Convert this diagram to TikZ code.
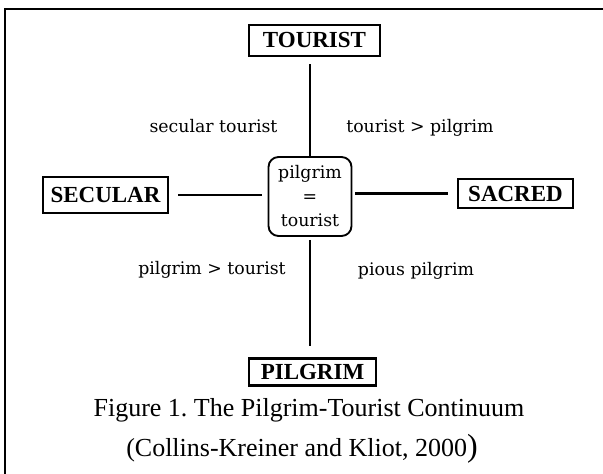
\documentclass[tikz,border=0pt]{standalone}
\usepackage{fontspec}
\setmainfont{Liberation Serif}
\newfontfamily\labelfont{DejaVu Serif}
\frenchspacing
\begin{document}
\begin{tikzpicture}[x=0.75pt,y=-0.75pt,
  frameline/.style={line width=1.5pt},
  termbox/.style={draw, line width=1.8pt, inner sep=0pt, font=\fontsize{17.25}{20}\selectfont\bfseries},
  midbox/.style={draw, line width=1.4pt, rounded corners=7.5pt, inner sep=0pt, minimum width=62.25pt, minimum height=59.25pt, align=center, font=\labelfont\fontsize{13}{18}\selectfont},
  axisline/.style={line width=2.1pt},
  quadlabel/.style={font=\labelfont\fontsize{13}{16}\selectfont, anchor=base, inner sep=0pt},
  captionstyle/.style={font=\fontsize{19.5}{24}\selectfont, anchor=base, inner sep=0pt}]
\useasboundingbox (0,0) rectangle (603,474);
\draw[frameline] (5,474) -- (5,9.5) -- (603,9.5);
% terminal boxes
\node[termbox, minimum width=98.25pt, minimum height=23.25pt] (TOURIST) at (314.5,40.5) {TOURIST};
\node[termbox, minimum width=93.75pt, minimum height=27pt] (SECULAR) at (105.5,195) {SECULAR};
\node[termbox, minimum width=86.25pt, minimum height=21.75pt] (SACRED) at (515.5,193.5) {SACRED};
\node[termbox, minimum width=95.25pt, minimum height=20.25pt] (PILGRIM) at (312.5,372) {PILGRIM};
% centre
\node[midbox] (C) at (310,196.5) {pilgrim\\=\\tourist};
% axes
\draw[axisline] ([yshift=-5.25pt]TOURIST.south -| C.north) -- (C.north);
\draw[axisline] ([yshift=-2.25pt]C.south) -- ([yshift=8.25pt]C.south |- PILGRIM.north);
\draw[axisline] ([xshift=6.75pt]SECULAR.east) -- ([xshift=-4.5pt]SECULAR.east -| C.west);
\draw[axisline] ([xshift=2.25pt]C.east |- SACRED.west) -- ([xshift=-6.75pt]SACRED.west);
% quadrant labels
\node[quadlabel] (q1) at (213.5,133) {secular tourist};
\node[quadlabel] (q2) at (420,133) {tourist > pilgrim};
\node[quadlabel] (q3) at (212,274) {pilgrim > tourist};
\node[quadlabel] (q4) at (416,275) {pious pilgrim};
% caption
\node[captionstyle] (cap1) at (309,416) {Figure 1. The Pilgrim-Tourist Continuum};
\node[captionstyle] (cap2) at (302,456) {(Collins-Kreiner and Kliot, 2000{\fontsize{24}{24}\selectfont)}};
\end{tikzpicture}
\end{document}
